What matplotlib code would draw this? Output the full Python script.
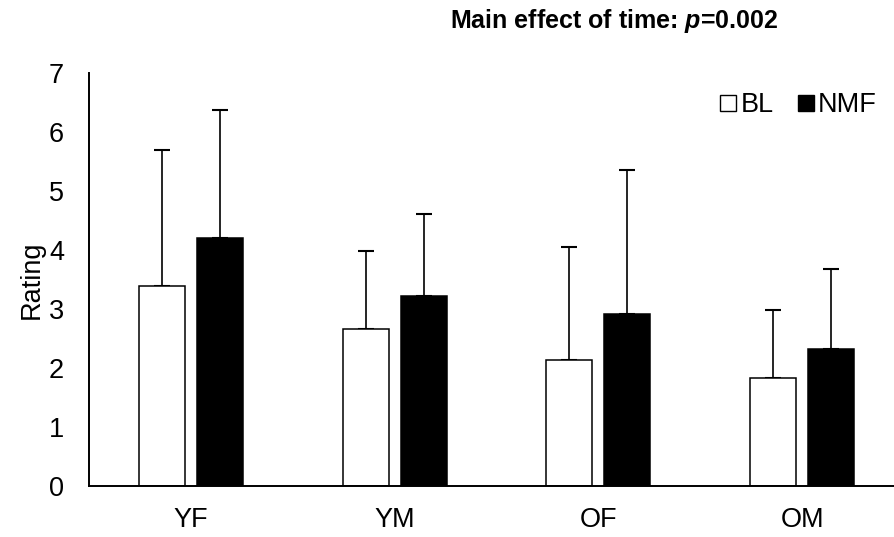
import matplotlib
matplotlib.use("Agg")
import matplotlib.pyplot as plt
from matplotlib.lines import Line2D
import numpy as np

categories = ["YF", "YM", "OF", "OM"]
bl_means = [3.39, 2.66, 2.14, 1.83]
bl_errs = [2.30, 1.33, 1.91, 1.15]
nmf_means = [4.21, 3.22, 2.92, 2.33]
nmf_errs = [2.16, 1.39, 2.44, 1.35]
series_labels = ["BL", "NMF"]
y_ticks = [0, 1, 2, 3, 4, 5, 6, 7]

plt.rcParams['font.family'] = ['Liberation Sans', 'DejaVu Sans']
plt.rcParams['mathtext.fontset'] = 'custom'
plt.rcParams['mathtext.it'] = 'Liberation Sans:bold:italic'
plt.rcParams['mathtext.rm'] = 'Liberation Sans:bold'

W, H = 895, 537
fig = plt.figure(figsize=(W / 100, H / 100), dpi=100)
ax = fig.add_axes([89 / W, (H - 486) / H, (904 - 89) / W, (486 - 73) / H])

x = np.arange(len(categories))
bw = 0.226
off = 0.1424
ax.bar(x - off, bl_means, bw, color="white", edgecolor="black", linewidth=1.1, zorder=2)
ax.bar(x + off, nmf_means, bw, color="black", edgecolor="black", linewidth=1.1, zorder=2)
ax.errorbar(x - off, bl_means, yerr=[np.zeros(4), bl_errs], fmt="none", ecolor="black",
            elinewidth=1.2, capsize=6, capthick=1.5, zorder=1)
ax.errorbar(x + off, nmf_means, yerr=[np.zeros(4), nmf_errs], fmt="none", ecolor="black",
            elinewidth=1.2, capsize=6, capthick=1.5, zorder=1)

ax.set_xlim(-0.5, len(categories) - 0.5)
ax.set_ylim(0, 7)
ax.set_yticks(y_ticks)
ax.set_xticks(x)
ax.set_xticklabels(categories)
ax.tick_params(axis="both", length=0, labelsize=19.5, colors="black")
ax.tick_params(axis="y", pad=18)
ax.tick_params(axis="x", pad=15)
for s in ["top", "right"]:
    ax.spines[s].set_visible(False)
for s in ["left", "bottom"]:
    ax.spines[s].set_linewidth(1.4)
    ax.spines[s].set_color("black")
ax.set_ylabel("Rating", fontsize=19.5, labelpad=3)

handles = [
    Line2D([], [], marker="s", linestyle="none", markerfacecolor="white",
           markeredgecolor="black", markersize=11, markeredgewidth=1.0),
    Line2D([], [], marker="s", linestyle="none", markerfacecolor="black",
           markeredgecolor="black", markersize=11, markeredgewidth=1.0),
]
fig.legend(handles, series_labels, loc="center right", bbox_to_anchor=(877 / W, 1 - 105 / H),
           ncol=2, frameon=False, fontsize=19.5, handlelength=0.6, handletextpad=0.15,
           columnspacing=0.9, borderpad=0, borderaxespad=0)

fig.text(614 / W, 1 - 21 / H, "Main effect of time: $p$=0.002", ha="center", va="center",
         fontsize=18, fontweight="bold")

fig.savefig("out.png", dpi=100)
